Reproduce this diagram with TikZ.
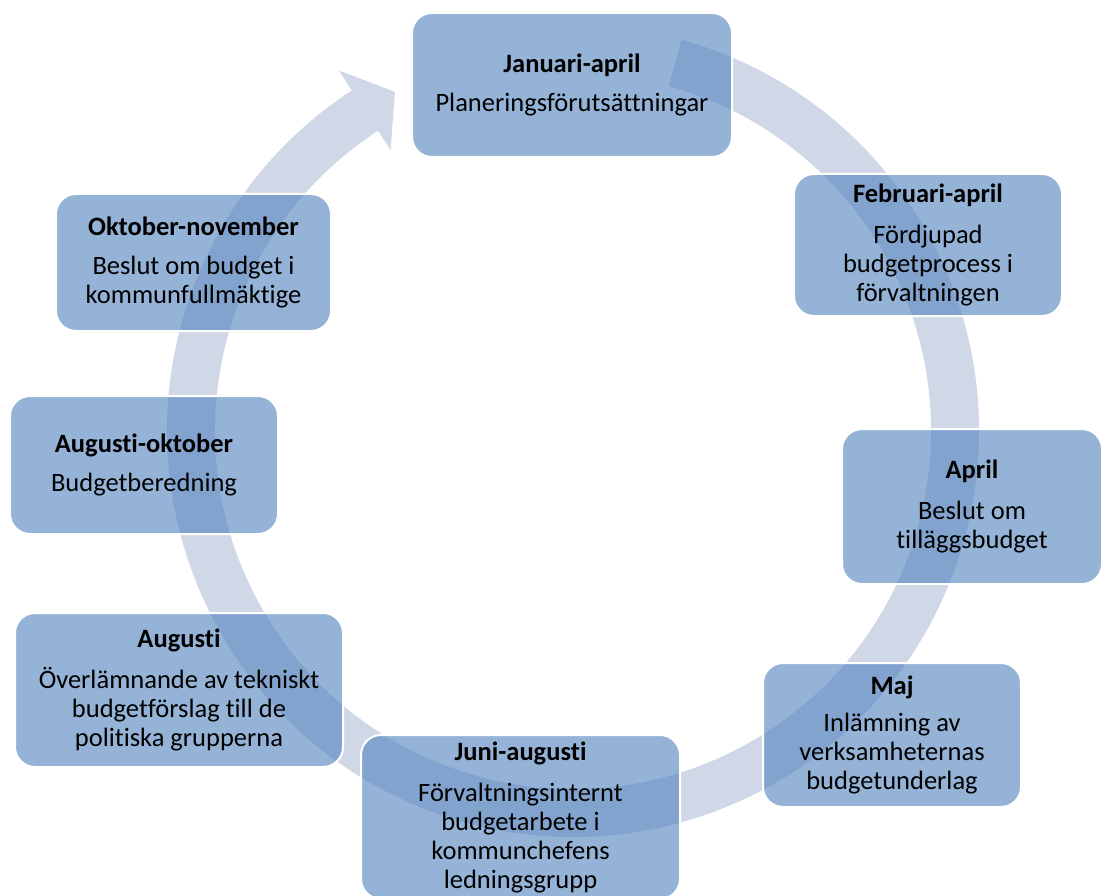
\documentclass[tikz,border=0pt]{standalone}
\usepackage{fontspec}
\setmainfont{Carlito}[RawFeature={-liga;-dlig;-clig}]
\definecolor{acc}{HTML}{4F81BD}
\definecolor{ringcol}{HTML}{D0D8E8}
\begin{document}
\begin{tikzpicture}[x=1pt,y=1pt,
  box/.style={draw=white, line width=2pt, fill=acc, fill opacity=0.6, text opacity=1,
    rounded corners=20pt, align=center, inner sep=0pt, text=black,
    font=\fontsize{26.5}{29}\selectfont}]
\useasboundingbox (0,0) rectangle (1101,-896);
\clip (0,0) rectangle (1101,-896);
% circular arrow
\begin{scope}[shift={(573,-431)}]
\fill[ringcol] (74.5:406) arc[start angle=74.5, end angle=-237, radius=406]
  -- (-237:430) -- (-242.3:383) -- (-237:335) -- (-237:358)
  arc[start angle=-237, end angle=74.5, radius=358] -- cycle;
\end{scope}
% boxes
\node[box, minimum width=320pt, minimum height=144pt] (jan) at (572,-85)
  {\textbf{Januari-april}\\[10pt]Planeringsförutsättningar};
\node[box, minimum width=268pt, minimum height=142pt] (feb) at (928,-245)
  {\textbf{Februari-april}\\[12pt]Fördjupad\\budgetprocess i\\förvaltningen};
\node[box, minimum width=260pt, minimum height=155pt] (apr) at (972,-506.5)
  {\textbf{April}\\[12pt]Beslut om\\tilläggsbudget};
\node[box, minimum width=258pt, minimum height=144pt] (maj) at (892,-735)
  {\textbf{Maj}\\[8pt]Inlämning av\\verksamheternas\\budgetunderlag};
\node[box, minimum width=319pt, minimum height=164pt] (jun) at (520.5,-817)
  {\textbf{Juni-augusti}\\[12pt]Förvaltningsinternt\\budgetarbete i\\kommunchefens\\ledningsgrupp};
\node[box, minimum width=328pt, minimum height=154pt] (aug) at (179,-690)
  {\textbf{Augusti}\\[12pt]Överlämnande av tekniskt\\budgetförslag till de\\politiska grupperna};
\node[box, minimum width=268pt, minimum height=138pt] (augokt) at (144,-465)
  {\textbf{Augusti-oktober}\\[10pt]Budgetberedning};
\node[box, minimum width=275pt, minimum height=137pt] (okt) at (193.5,-262.5)
  {\textbf{Oktober-november}\\[10pt]Beslut om budget i\\kommunfullmäktige};
\end{tikzpicture}
\end{document}
